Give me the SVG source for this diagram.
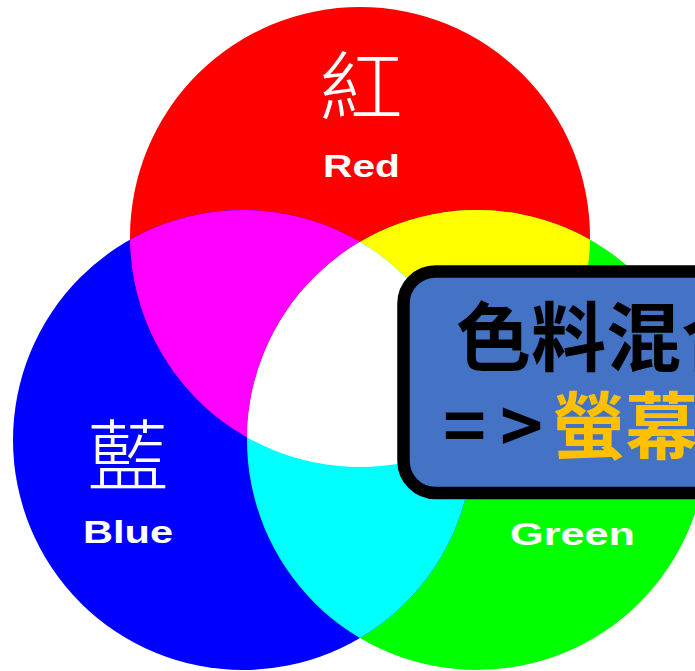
<svg xmlns="http://www.w3.org/2000/svg" width="695" height="671" viewBox="0 0 695 671">
<style>
.lbl{font-family:"Liberation Sans",Arial,sans-serif;font-weight:bold;font-size:32px;fill:#fff}
.cjk{font-family:"Noto Sans CJK TC","Noto Sans CJK SC",sans-serif;fill:#fff;font-weight:300;text-anchor:middle}
.bx{font-family:"Noto Sans CJK TC","Noto Sans CJK SC",sans-serif;font-weight:bold}
</style>
<defs>
<clipPath id="cR"><circle cx="360" cy="237" r="230"/></clipPath>
<clipPath id="cG"><circle cx="477" cy="440" r="230"/></clipPath>
</defs>
<rect width="695" height="671" fill="#fff"/>
<g id="circles">
<circle id="red" cx="360" cy="237" r="230" fill="#f00"/>
<circle id="green" cx="477" cy="440" r="230" fill="#0f0"/>
<circle id="blue" cx="243" cy="440" r="230" fill="#00f"/>
<circle id="magenta" cx="243" cy="440" r="230" fill="#f0f" clip-path="url(#cR)"/>
<circle id="yellow" cx="477" cy="440" r="230" fill="#ff0" clip-path="url(#cR)"/>
<circle id="cyan" cx="243" cy="440" r="230" fill="#0ff" clip-path="url(#cG)"/>
<g id="white" clip-path="url(#cR)"><circle cx="243" cy="440" r="230" fill="#fff" clip-path="url(#cG)"/></g>
</g>
<g id="label-red">
<text class="cjk" font-size="76" transform="translate(361,115) scale(1.1,1)">紅</text>
<text class="lbl" x="323" y="177" textLength="77" lengthAdjust="spacingAndGlyphs">Red</text>
</g>
<g id="label-blue">
<text class="cjk" font-size="78" transform="translate(128,485) scale(1.05,1)">藍</text>
<text class="lbl" x="83" y="543" textLength="90" lengthAdjust="spacingAndGlyphs">Blue</text>
</g>
<g id="label-green">
<text class="lbl" x="510" y="545" textLength="125" lengthAdjust="spacingAndGlyphs">Green</text>
</g>
<g id="note">
<rect x="403.5" y="271.5" width="400" height="221.5" rx="32" fill="#4472C4" stroke="#000" stroke-width="12.5"/>
<text class="bx" x="456" y="365" font-size="75" fill="#000">色料混合</text>
<text class="bx" y="453" font-size="73"><tspan x="443" fill="#000">=</tspan><tspan x="500" fill="#000">&gt;</tspan><tspan x="552" fill="#FFC000">螢幕</tspan></text>
</g>
</svg>
